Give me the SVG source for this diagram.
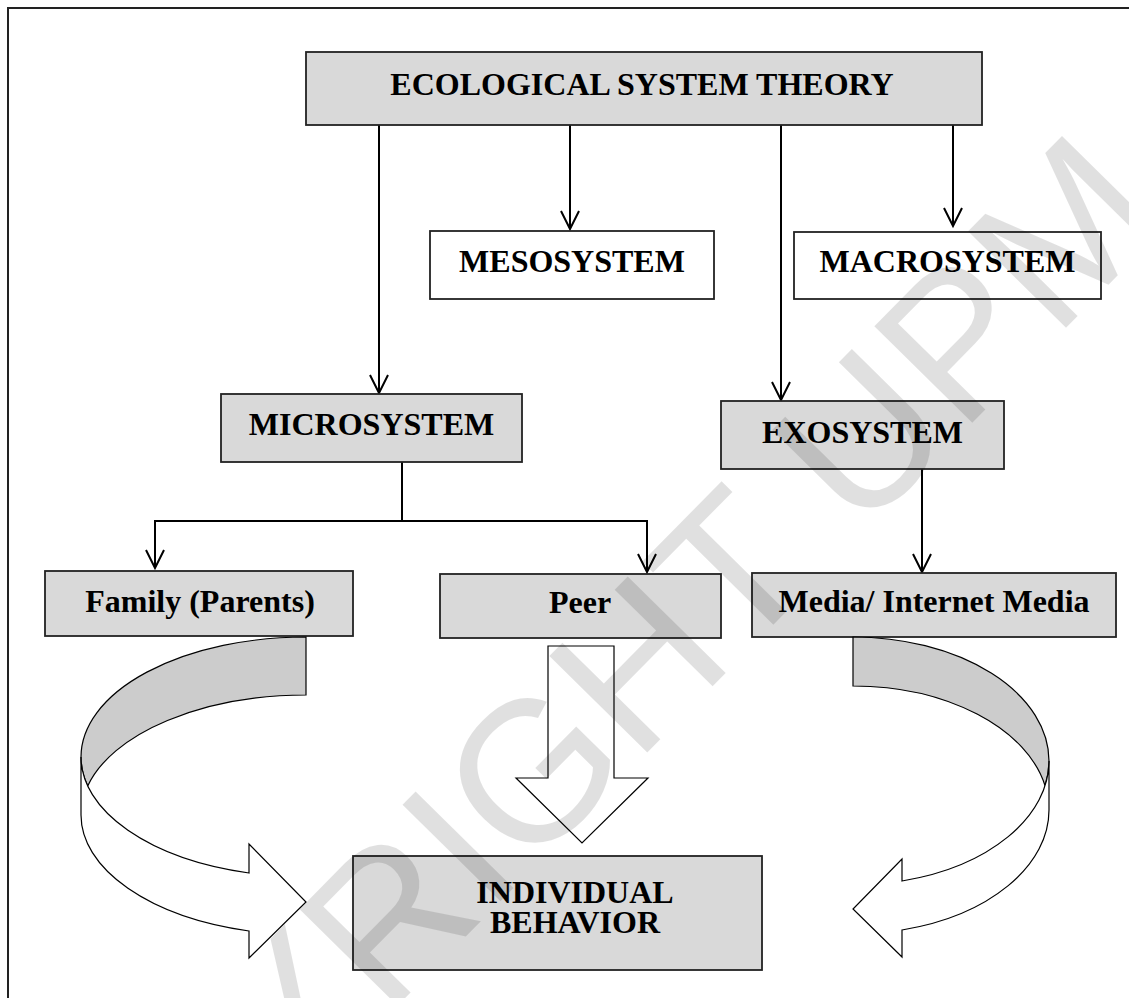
<svg xmlns="http://www.w3.org/2000/svg" width="1129" height="998" viewBox="0 0 1129 998">
<defs>
<style>
.box{fill:#d9d9d9;stroke:#222;stroke-width:1.8}
.wbox{fill:#fff;stroke:#222;stroke-width:1.8}
.lbl{font-family:"Liberation Serif","Times New Roman",serif;font-weight:bold;font-size:32px;fill:#000;text-anchor:middle}
.con{fill:none;stroke:#000;stroke-width:2}
.face{fill:#fff;stroke:#000;stroke-width:1.2;stroke-linejoin:miter}
.back{fill:#cccccc;stroke:#000;stroke-width:1.2}
.wm{font-family:"Liberation Sans",Arial,sans-serif;font-size:200px;fill:#000;fill-opacity:0.12}
</style>
<marker id="arr" markerUnits="userSpaceOnUse" markerWidth="24" markerHeight="24" viewBox="-20 -12 24 24" refX="0" refY="0" orient="auto">
<path d="M-18,-9 L0,0 L-18,9" fill="none" stroke="#000" stroke-width="2"/>
</marker>
</defs>
<rect width="1129" height="998" fill="#fff"/>
<g id="frame">
<path d="M8,998 L8,8 L1129,8" fill="none" stroke="#222" stroke-width="2"/>
</g>
<g id="connectors">
<line class="con" x1="379" y1="125" x2="379" y2="393" marker-end="url(#arr)"/>
<line class="con" x1="570" y1="125" x2="570" y2="229" marker-end="url(#arr)"/>
<line class="con" x1="781" y1="125" x2="781" y2="400" marker-end="url(#arr)"/>
<line class="con" x1="953" y1="125" x2="953" y2="226" marker-end="url(#arr)"/>
<polyline class="con" points="402,462 402,521"/>
<polyline class="con" points="155,521 647,521"/>
<line class="con" x1="155" y1="520" x2="155" y2="568" marker-end="url(#arr)"/>
<line class="con" x1="647" y1="520" x2="647" y2="572" marker-end="url(#arr)"/>
<line class="con" x1="922" y1="469" x2="922" y2="572" marker-end="url(#arr)"/>
</g>
<g id="ecological">
<rect class="box" x="306" y="52" width="676" height="73"/>
<text class="lbl" x="642" y="95">ECOLOGICAL SYSTEM THEORY</text>
</g>
<g id="mesosystem">
<rect class="wbox" x="430" y="231" width="284" height="68"/>
<text class="lbl" x="572" y="272">MESOSYSTEM</text>
</g>
<g id="macrosystem">
<rect class="wbox" x="794" y="232" width="307" height="67"/>
<text class="lbl" x="947.5" y="272">MACROSYSTEM</text>
</g>
<g id="microsystem">
<rect class="box" x="221" y="394" width="301" height="68"/>
<text class="lbl" x="371.5" y="435">MICROSYSTEM</text>
</g>
<g id="exosystem">
<rect class="box" x="721" y="401" width="283" height="68"/>
<text class="lbl" x="862.5" y="443">EXOSYSTEM</text>
</g>
<g id="family">
<rect class="box" x="45" y="571" width="308" height="65"/>
<text class="lbl" x="200" y="612">Family (Parents)</text>
</g>
<g id="peer">
<rect class="box" x="440" y="574" width="281" height="64"/>
<text class="lbl" x="580" y="613">Peer</text>
</g>
<g id="media">
<rect class="box" x="752" y="573" width="364" height="64"/>
<text class="lbl" x="934" y="612">Media/ Internet Media</text>
</g>
<g id="arrow-left">
<path class="back" d="M306,637 A225,120 0 0 0 81,757 A225,120 0 0 0 87.7,786 A225,120 0 0 1 306,695 Z"/>
<path class="face" d="M81,757 L81,815 A225,120 0 0 0 249,931 L249,958 L306,902 L249,844 L249,873 A225,120 0 0 1 81,757 Z"/>
</g>
<g id="arrow-middle">
<path class="face" d="M548,646 L614,646 L614,778 L648,778 L582,843 L516,778 L548,778 Z"/>
</g>
<g id="arrow-right">
<path class="back" d="M853,637 A196,124 0 0 1 1049,761 A196,124 0 0 1 1045,785.5 A196,124 0 0 0 853,686 Z"/>
<path class="face" d="M1049,761 L1049,810 A196,124 0 0 1 902,930 L902,957 L853,909 L902,859 L902,881 A196,124 0 0 0 1049,761 Z"/>
</g>
<g id="individual">
<rect class="box" x="353" y="856" width="409" height="114"/>
<text class="lbl" x="575" y="903">INDIVIDUAL</text>
<text class="lbl" x="575" y="933">BEHAVIOR</text>
</g>
<g id="watermark">
<text class="wm" x="-12" y="1421" transform="rotate(-45.4 -12 1421)">COPYRIGHT UPM</text>
</g>
</svg>
